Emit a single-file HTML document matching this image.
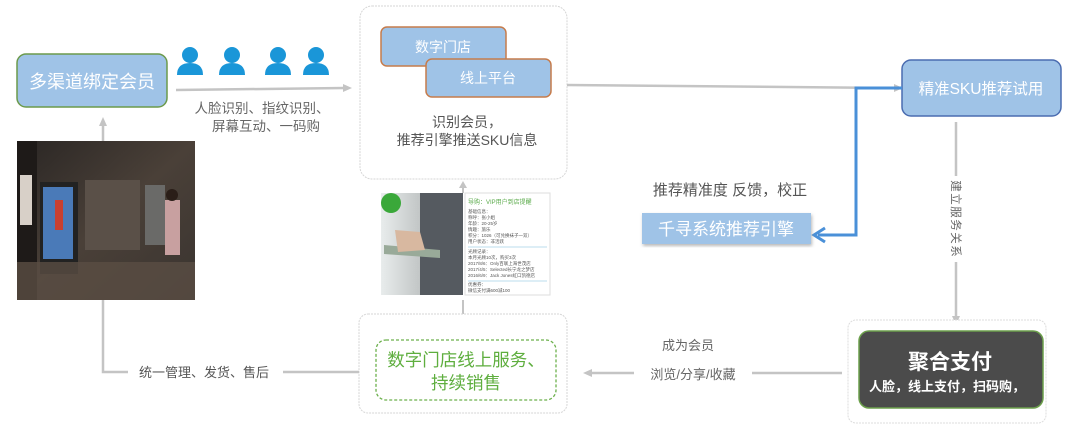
<!DOCTYPE html>
<html><head><meta charset="utf-8"><style>
body{margin:0;background:#fff;}
svg{display:block;font-family:"Liberation Sans","Noto Sans CJK SC",sans-serif;}
</style></head><body>
<svg width="1080" height="427" viewBox="0 0 1080 427" xmlns="http://www.w3.org/2000/svg">
<defs>
<linearGradient id="st" x1="0" y1="0" x2="1" y2="1"><stop offset="0" stop-color="#2a2624"/><stop offset="0.5" stop-color="#4a4038"/><stop offset="1" stop-color="#3a3430"/></linearGradient>
<linearGradient id="ph" x1="0" y1="0" x2="1" y2="0"><stop offset="0" stop-color="#e8ecec"/><stop offset="0.6" stop-color="#b8bcbc"/><stop offset="1" stop-color="#505458"/></linearGradient>
<filter id="sh"><feDropShadow dx="1" dy="2" stdDeviation="1.5" flood-color="#888" flood-opacity="0.6"/></filter>
</defs>

<!-- left member box -->
<rect x="17" y="54" width="150" height="53" rx="9" fill="#9fc3e7" stroke="#6c9a4c" stroke-width="1.5"/>
<text x="92" y="88" font-size="18" fill="#fff" text-anchor="middle">多渠道绑定会员</text>

<!-- people icons -->
<g fill="#1a96d8">
<g transform="translate(190,0)"><circle cx="0" cy="55" r="8"/><path d="M-13,75 Q-13,63 0,63 Q13,63 13,75 Z"/></g>
<g transform="translate(232,0)"><circle cx="0" cy="55" r="8"/><path d="M-13,75 Q-13,63 0,63 Q13,63 13,75 Z"/></g>
<g transform="translate(278,0)"><circle cx="0" cy="55" r="8"/><path d="M-13,75 Q-13,63 0,63 Q13,63 13,75 Z"/></g>
<g transform="translate(316,0)"><circle cx="0" cy="55" r="8"/><path d="M-13,75 Q-13,63 0,63 Q13,63 13,75 Z"/></g>
</g>
<line x1="176" y1="90" x2="344" y2="88" stroke="#c4c4c4" stroke-width="2.5"/>
<path d="M343,84 L352,88 L343,92 Z" fill="#c4c4c4"/>
<text x="262" y="113" font-size="13.5" fill="#666" text-anchor="middle">人脸识别、指纹识别、</text>
<text x="266" y="131" font-size="13.5" fill="#666" text-anchor="middle">屏幕互动、一码购</text>

<!-- up arrow to left box -->
<line x1="103" y1="142" x2="103" y2="124" stroke="#c4c4c4" stroke-width="2.5"/>
<path d="M99,126 L103,117 L107,126 Z" fill="#c4c4c4"/>

<!-- store photo -->
<rect x="17" y="141" width="178" height="159" fill="url(#st)"/>
<rect x="17" y="141" width="20" height="159" fill="#1e1a18"/>
<rect x="20" y="175" width="12" height="50" fill="#d8d0c8"/>
<rect x="40" y="182" width="38" height="92" fill="#222"/>
<rect x="43" y="187" width="30" height="72" fill="#4a7ab8"/>
<rect x="55" y="200" width="8" height="30" fill="#c84030"/>
<rect x="85" y="180" width="55" height="70" fill="#5a5048"/>
<rect x="145" y="185" width="20" height="60" fill="#6a6a68"/>
<rect x="165" y="200" width="15" height="55" fill="#c8a0a0"/>
<circle cx="172" cy="195" r="6" fill="#2a1e18"/>
<rect x="17" y="262" width="178" height="38" fill="#5a4e44" opacity="0.8"/>

<!-- center top box -->
<rect x="360" y="6" width="207" height="173" rx="12" fill="#fff" stroke="#d6d6d6" stroke-dasharray="2,1"/>
<rect x="381" y="27" width="125" height="39" rx="6" fill="#9fc3e7" stroke="#c67c4c" stroke-width="1.5"/>
<text x="443" y="52" font-size="14" fill="#fff" text-anchor="middle">数字门店</text>
<rect x="426" y="59" width="125" height="38" rx="6" fill="#9fc3e7" stroke="#c67c4c" stroke-width="1.5"/>
<text x="488" y="83" font-size="14" fill="#fff" text-anchor="middle">线上平台</text>
<text x="467" y="127" font-size="14" fill="#555" text-anchor="middle">识别会员，</text>
<text x="467" y="145" font-size="14" fill="#555" text-anchor="middle">推荐引擎推送SKU信息</text>

<!-- up arrow from phone image -->
<line x1="463" y1="193" x2="463" y2="186" stroke="#c4c4c4" stroke-width="2"/>
<path d="M459,188 L463,181 L467,188 Z" fill="#c4c4c4"/>

<!-- phone image -->
<rect x="381" y="193" width="82" height="102" fill="url(#ph)"/>
<rect x="381" y="193" width="20" height="20" rx="10" fill="#3aa83a"/>
<rect x="420" y="193" width="43" height="102" fill="#555a60"/>
<path d="M384,245 L440,250 L440,258 L384,254 Z" fill="#9a9"/>
<path d="M395,230 L420,232 L425,250 L398,252 Z" fill="#d8b8a0"/>
<rect x="465" y="193" width="85" height="102" fill="#fff" stroke="#ddd"/>
<text x="468" y="204" font-size="6" fill="#5aaa4a">导购：VIP用户到店提醒</text>
<g font-size="4.5" fill="#555">
<text x="468" y="213">基础信息：</text><text x="468" y="219">称呼：张小姐</text><text x="468" y="225">年龄：20-25岁</text><text x="468" y="231">情趣：旅乐</text><text x="468" y="237">积分：1026（可兑换袜子一双）</text><text x="468" y="243">用户状态：非活跃</text>
<text x="468" y="253">光顾记录：</text><text x="468" y="259">本月光顾10次，购买3次</text><text x="468" y="265">2017/8/6：Only百联上海世茂店</text><text x="468" y="271">2017/4/5：Selected长宁龙之梦店</text><text x="468" y="277">2016/6/9：Jack Jones虹口凯德店</text>
<text x="468" y="286">优惠券：</text><text x="468" y="292">微信支付满600减100</text>
</g>
<line x1="468" y1="247" x2="547" y2="247" stroke="#bde"/>
<line x1="468" y1="281" x2="547" y2="281" stroke="#bde"/>

<!-- main line to SKU -->
<line x1="567" y1="85" x2="895" y2="88" stroke="#c4c4c4" stroke-width="2.5"/>
<path d="M894,84 L903,88 L894,92 Z" fill="#c4c4c4"/>

<!-- SKU box -->
<rect x="902" y="60" width="159" height="56" rx="9" fill="#9fc3e7" stroke="#4a6cb0" stroke-width="1.5"/>
<text x="981" y="94" font-size="15.5" fill="#fff" text-anchor="middle">精准SKU推荐试用</text>

<!-- blue feedback connector -->
<polyline points="902,88 856,88 856,235 818,235" fill="none" stroke="#4a90d8" stroke-width="3"/>
<polyline points="825,228 814,235 825,242" fill="none" stroke="#4a90d8" stroke-width="3"/>
<text x="730" y="195" font-size="15" fill="#555" text-anchor="middle">推荐精准度 反馈，校正</text>
<rect x="642" y="213" width="169" height="31" fill="#9fc3e7" filter="url(#sh)"/>
<text x="726" y="235" font-size="17" fill="#fff" text-anchor="middle">千寻系统推荐引擎</text>

<!-- vertical to payment -->
<line x1="956" y1="122" x2="956" y2="176" stroke="#c4c4c4" stroke-width="2.5"/>
<line x1="956" y1="262" x2="956" y2="318" stroke="#c4c4c4" stroke-width="2.5"/>
<path d="M952,316 L956,325 L960,316 Z" fill="#c4c4c4"/>
<g font-size="11.5" fill="#666" text-anchor="middle">
<text x="956" y="190" transform="rotate(90 956 186)">建</text>
<text x="956" y="203" transform="rotate(90 956 199)">立</text>
<text x="956" y="216" transform="rotate(90 956 212)">服</text>
<text x="956" y="229" transform="rotate(90 956 225)">务</text>
<text x="956" y="242" transform="rotate(90 956 238)">关</text>
<text x="956" y="255" transform="rotate(90 956 251)">系</text>
</g>

<!-- payment -->
<rect x="848" y="320" width="198" height="103" rx="8" fill="#fff" stroke="#dcdcdc" stroke-dasharray="2,1"/>
<rect x="859" y="331" width="184" height="77" rx="10" fill="#4b4b4b" stroke="#6ca04c" stroke-width="1.5"/>
<text x="950" y="369" font-size="21" font-weight="bold" fill="#fff" text-anchor="middle">聚合支付</text>
<text x="947" y="391" font-size="13" font-weight="bold" fill="#fff" text-anchor="middle">人脸，线上支付，扫码购，</text>

<!-- bottom arrow to center -->
<line x1="842" y1="373" x2="752" y2="373" stroke="#c4c4c4" stroke-width="2.5"/>
<line x1="634" y1="373" x2="590" y2="373" stroke="#c4c4c4" stroke-width="2.5"/>
<path d="M592,369 L583,373 L592,377 Z" fill="#c4c4c4"/>
<text x="688" y="350" font-size="13" fill="#666" text-anchor="middle">成为会员</text>
<text x="693" y="379" font-size="13" fill="#666" text-anchor="middle">浏览/分享/收藏</text>

<!-- center bottom box -->
<line x1="463" y1="300" x2="463" y2="314" stroke="#c4c4c4" stroke-width="2"/>
<rect x="359" y="314" width="208" height="99" rx="9" fill="#fff" stroke="#d6d6d6" stroke-dasharray="2,1"/>
<rect x="376" y="340" width="180" height="60" rx="10" fill="#fff" stroke="#6cb04c" stroke-width="1.3" stroke-dasharray="3,2"/>
<text x="466" y="366" font-size="17.5" fill="#5eae3e" text-anchor="middle">数字门店线上服务、</text>
<text x="466" y="389" font-size="17.5" fill="#5eae3e" text-anchor="middle">持续销售</text>

<!-- left return line -->
<polyline points="359,372 283,372" fill="none" stroke="#c4c4c4" stroke-width="2.5"/>
<polyline points="128,372 103,372 103,300" fill="none" stroke="#c4c4c4" stroke-width="2.5"/>
<text x="204" y="377" font-size="13" fill="#555" text-anchor="middle">统一管理、发货、售后</text>
</svg>
</body></html>
